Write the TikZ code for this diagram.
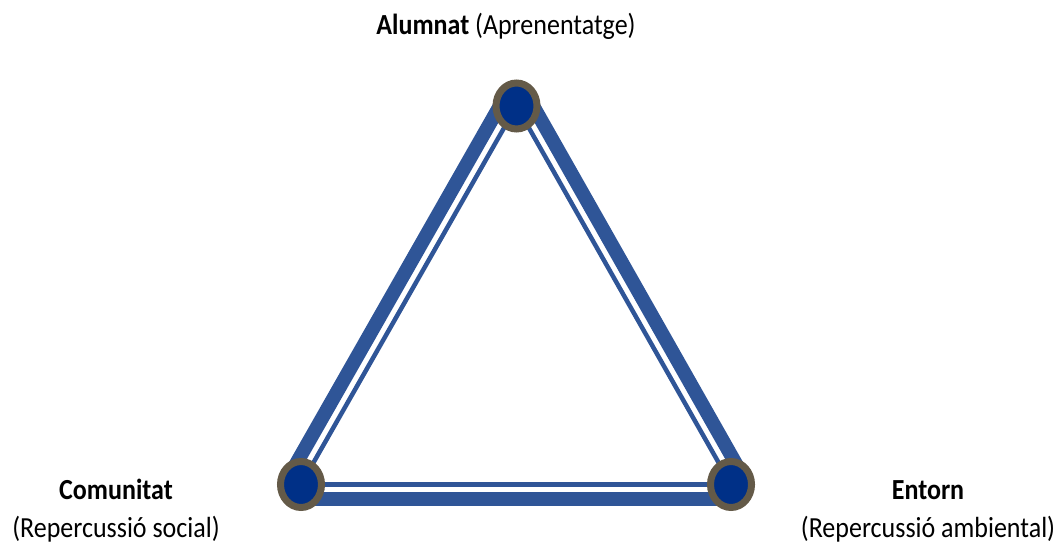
\documentclass[tikz,border=0pt]{standalone}
\usepackage{fontspec}
\setmainfont{Carlito}
\usetikzlibrary{calc,shapes.geometric,backgrounds}
\definecolor{edgeblue}{RGB}{47,85,151}
\definecolor{navy}{RGB}{0,48,135}
\definecolor{ring}{RGB}{100,90,72}
\begin{document}
\begin{tikzpicture}[x=1pt,y=1pt,font=\fontsize{26}{34}\selectfont]
    \tikzset{vtx/.style={ellipse,draw=ring,fill=navy,line width=7pt,minimum width=41pt,minimum height=46pt,inner sep=0pt},
             lbl/.style={align=center,inner sep=0pt,yscale=1.12,transform shape},
             thickedge/.style={edgeblue,line width=14pt},
             thinedge/.style={edgeblue,line width=4.5pt}}
    \useasboundingbox (0,0) rectangle (1056,549);
    \node[vtx] (alumnat) at (516.5,443) {};
    \node[vtx] (comunitat) at (301,64.5) {};
    \node[vtx] (entorn) at (731,64.5) {};
    \node[lbl] (lblA) at (506,523) {\textbf{Alumnat} (Aprenentatge)};
    \node[lbl] (lblC) at (116,38) {\textbf{Comunitat}\\(Repercussió social)};
    \node[lbl] (lblE) at (928,38) {\textbf{Entorn}\\(Repercussió ambiental)};
    \begin{scope}[on background layer]
    \foreach \s/\e in {comunitat/entorn,entorn/alumnat,alumnat/comunitat} {
      \draw[thickedge] ($(\s.center)!14.5pt!-90:(\e.center)$) -- ($(\e.center)!14.5pt!90:(\s.center)$);
      \draw[thinedge] (\s.center) -- (\e.center);
    }
    \end{scope}
\end{tikzpicture}
\end{document}
